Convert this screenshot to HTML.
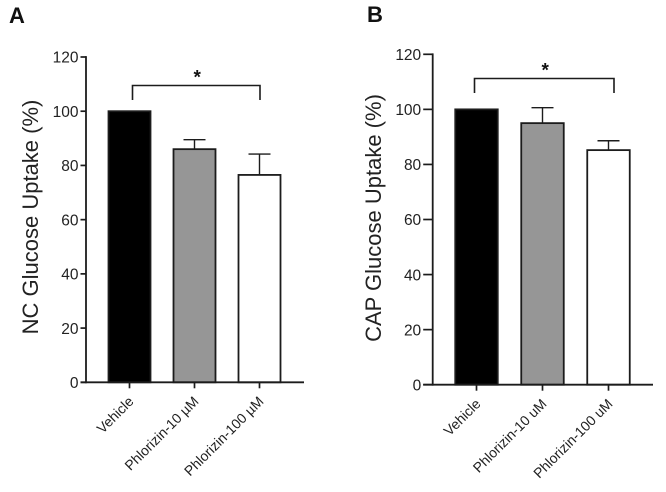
<!DOCTYPE html>
<html lang="en">
<head>
<meta charset="utf-8">
<title>Glucose uptake charts</title>
<style>
html,body{margin:0;padding:0;background:#fff;}
svg{display:block;font-family:"Liberation Sans",Arial,sans-serif;}
</style>
</head>
<body>
<svg id="chart" xmlns="http://www.w3.org/2000/svg" width="666" height="492" viewBox="0 0 666 492"></svg>
<script>
const yTicks = [0, 20, 40, 60, 80, 100, 120];
const categoriesA = ['Vehicle', 'Phlorizin-10 µM', 'Phlorizin-100 µM'];
const categoriesB = ['Vehicle', 'Phlorizin-10 uM', 'Phlorizin-100 uM'];
const valuesA = [100, 86, 76.5];
const errorsA = [0, 3.5, 7.7];
const valuesB = [100, 95, 85.2];
const errorsB = [0, 5.6, 3.4];
const fills = ['#000000', '#969696', '#ffffff'];

const svg = document.getElementById('chart');
const NS = 'http://www.w3.org/2000/svg';

function make(tag, attrs, parent) {
  const el = document.createElementNS(NS, tag);
  for (const k in attrs) el.setAttribute(k, attrs[k]);
  (parent || svg).appendChild(el);
  return el;
}

function drawPanel(cfg) {
  const g = make('g', {});
  
  
  const yScale = v => cfg.y0 + (cfg.y120 - cfg.y0) * v / 120;
  const xScale = i => cfg.xFirst + i * cfg.xStep;
  const ink = '#1c1c1c';

  const letter = make('text', {x: cfg.letterX, y: cfg.letterY, 'font-size': 22, 'font-weight': 'bold', fill: '#111'}, g);
  letter.textContent = cfg.letter;
  
  

  cfg.values.forEach((v, i) => {
    const cx = xScale(i);
    const hw = cfg.barW / 2;
    const top = yScale(v);
    const errTop = yScale(v + cfg.errors[i]);
    if (cfg.errors[i] > 0) {
      const err = make('path', {
        d: 'M' + cx + ' ' + top + 'V' + errTop + 'M' + (cx - 11) + ' ' + errTop + 'H' + (cx + 11),
        stroke: ink, 'stroke-width': 1.4, fill: 'none'
      }, g);
      
      
    }
    const bar = make('rect', {
      x: cx - hw, y: top, width: cfg.barW, height: cfg.y0 - top,
      fill: fills[i], stroke: ink, 'stroke-width': 1.8
    }, g);
    
    

    const tick = make('line', {x1: cx, x2: cx, y1: cfg.y0, y2: cfg.y0 + 6, stroke: ink, 'stroke-width': 1.7}, g);
    
    

    const lx = cx + 5;
    const ly = cfg.y0 + 20;
    const label = make('text', {
      x: lx, y: ly, 'font-size': 14, 'text-anchor': 'end', fill: '#222',
      transform: 'rotate(-45 ' + lx + ' ' + ly + ')'
    }, g);
    label.textContent = cfg.categories[i];
    
    
  });

  const yAxis = make('line', {x1: cfg.xAxis, x2: cfg.xAxis, y1: yScale(120) - 0.9, y2: cfg.y0 + 0.9, stroke: ink, 'stroke-width': 1.8}, g);
  
  
  const xAxis = make('line', {x1: cfg.xAxis - cfg.tickLen, x2: cfg.xEnd, y1: cfg.y0, y2: cfg.y0, stroke: ink, 'stroke-width': 1.8}, g);
  
  

  yTicks.forEach(t => {
    const y = yScale(t);
    const tk = make('line', {x1: cfg.xAxis - cfg.tickLen, x2: cfg.xAxis, y1: y, y2: y, stroke: ink, 'stroke-width': 1.7}, g);
    
    
    const lb = make('text', {x: cfg.xAxis - cfg.tickLen - 2, y: y + 5.7, 'font-size': 15.5, 'text-anchor': 'end', fill: '#222'}, g);
    lb.textContent = t;
    
    
  });

  const title = make('text', {
    x: cfg.titleX, y: cfg.titleY, 'font-size': 22, 'text-anchor': 'middle', fill: '#222',
    transform: 'rotate(-90 ' + cfg.titleX + ' ' + cfg.titleY + ')'
  }, g);
  title.textContent = cfg.title;
  
  

  const br = make('path', {
    d: 'M' + cfg.brL + ' ' + cfg.brBottom + 'V' + cfg.brTop + 'H' + cfg.brR + 'V' + cfg.brBottom,
    stroke: ink, 'stroke-width': 1.6, fill: 'none'
  }, g);
  
  

  const star = make('text', {x: (cfg.brL + cfg.brR) / 2 + 1, y: cfg.brTop - 2, 'font-size': 19, 'font-weight': 'bold', 'text-anchor': 'middle', fill: '#111'}, g);
  star.textContent = '*';
  
  
}

drawPanel({
  id: 'nc', letter: 'A', letterX: 9, letterY: 23,
  title: 'NC Glucose Uptake (%)', titleX: 38, titleY: 217,
  categories: categoriesA, values: valuesA, errors: errorsA,
  xAxis: 86, xEnd: 304, tickLen: 5.5, y0: 382.3, y120: 57,
  xFirst: 129.5, xStep: 65, barW: 42,
  brL: 132.5, brR: 260, brTop: 85.5, brBottom: 100
});
drawPanel({
  id: 'cap', letter: 'B', letterX: 367, letterY: 22,
  title: 'CAP Glucose Uptake (%)', titleX: 381, titleY: 218,
  categories: categoriesB, values: valuesB, errors: errorsB,
  xAxis: 432.7, xEnd: 653, tickLen: 9.5, y0: 384.7, y120: 54.3,
  xFirst: 476.5, xStep: 66, barW: 42.5,
  brL: 474.5, brR: 614, brTop: 78.5, brBottom: 93
});
</script>
</body>
</html>
